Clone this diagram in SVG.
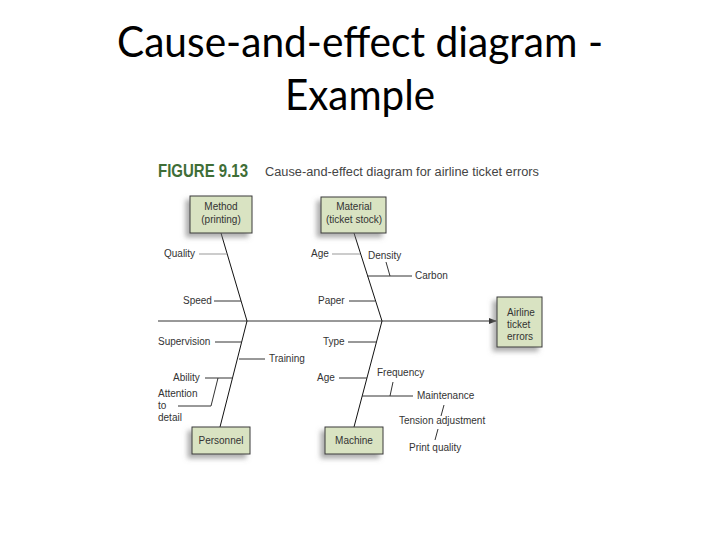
<svg xmlns="http://www.w3.org/2000/svg" width="720" height="540" viewBox="0 0 720 540">
<style>
.title{font-family:Lato,"Liberation Sans",sans-serif;font-size:42px;fill:#000}
.lbl{font-family:"Liberation Sans",Arial,sans-serif;font-size:10px;fill:#333}
.btxt{font-family:"Liberation Sans",Arial,sans-serif;font-size:10px;fill:#333}
.box{fill:#d9e3c2;stroke:#3a3a3a;stroke-width:1}
.bone{stroke:#111;stroke-width:1;fill:none}
.sub{stroke:#333;stroke-width:1;fill:none}
.light{stroke:#999;stroke-width:1;fill:none}
</style>
<defs>
<filter id="sh" x="-30%" y="-30%" width="160%" height="170%">
<feDropShadow dx="-4" dy="4" stdDeviation="2.5" flood-color="#777" flood-opacity="0.6"/>
</filter>
<marker id="arr" markerWidth="8" markerHeight="6" refX="7" refY="3" orient="auto" markerUnits="userSpaceOnUse">
<path d="M0,0 L8,3 L0,6 z" fill="#333"/>
</marker>
</defs>
<rect width="720" height="540" fill="#fff"/>
<text class="title" x="360" y="57" text-anchor="middle" textLength="486" lengthAdjust="spacingAndGlyphs">Cause-and-effect diagram -</text>
<text class="title" x="360" y="110" text-anchor="middle" textLength="150" lengthAdjust="spacingAndGlyphs">Example</text>
<text x="158" y="177" font-family="'Liberation Sans',Arial,sans-serif" font-weight="bold" font-size="18" fill="#3f6e37" textLength="90" lengthAdjust="spacingAndGlyphs">FIGURE 9.13</text>
<text x="265" y="176" font-family="'Liberation Sans',Arial,sans-serif" font-size="12.5" fill="#444" textLength="274" lengthAdjust="spacingAndGlyphs">Cause-and-effect diagram for airline ticket errors</text>

<g id="connectors">
<line class="sub" x1="158" y1="321" x2="496" y2="321" marker-end="url(#arr)"/>
<line class="bone" x1="221" y1="233" x2="247" y2="321"/>
<line class="bone" x1="247" y1="321" x2="220" y2="427"/>
<line class="bone" x1="354" y1="233" x2="382" y2="321"/>
<line class="bone" x1="382" y1="321" x2="354" y2="427"/>
<line class="light" x1="199" y1="254" x2="227" y2="254"/>
<line class="sub" x1="214" y1="301" x2="241" y2="301"/>
<line class="sub" x1="215" y1="342" x2="242" y2="342"/>
<line class="sub" x1="239" y1="359" x2="265" y2="359"/>
<line class="sub" x1="205" y1="378" x2="233" y2="378"/>
<line class="sub" x1="178" y1="406" x2="211" y2="406"/>
<line class="sub" x1="211" y1="406" x2="218" y2="378"/>
<line class="light" x1="332" y1="254" x2="360" y2="254"/>
<line class="sub" x1="367" y1="276" x2="412" y2="276"/>
<line class="sub" x1="386" y1="262" x2="390" y2="276"/>
<line class="sub" x1="349" y1="301" x2="375" y2="301"/>
<line class="sub" x1="348" y1="342" x2="377" y2="342"/>
<line class="sub" x1="339" y1="378" x2="367" y2="378"/>
<line class="sub" x1="362" y1="396" x2="413" y2="396"/>
<line class="sub" x1="393" y1="382" x2="390" y2="396"/>
<line class="sub" x1="444" y1="405" x2="441" y2="416"/>
<line class="sub" x1="438" y1="429" x2="435" y2="440"/>
</g>

<g id="method">
<rect class="box" x="190" y="196" width="62" height="37" filter="url(#sh)"/>
<text class="btxt" x="221" y="210" text-anchor="middle">Method</text>
<text class="btxt" x="221" y="223" text-anchor="middle">(printing)</text>
</g>
<g id="material">
<rect class="box" x="321" y="197" width="65" height="36" filter="url(#sh)"/>
<text class="btxt" x="354" y="210" text-anchor="middle">Material</text>
<text class="btxt" x="354" y="223" text-anchor="middle">(ticket stock)</text>
</g>
<g id="personnel">
<rect class="box" x="192" y="427" width="58" height="27" filter="url(#sh)"/>
<text class="btxt" x="221" y="444" text-anchor="middle">Personnel</text>
</g>
<g id="machine">
<rect class="box" x="325" y="427" width="58" height="27" filter="url(#sh)"/>
<text class="btxt" x="354" y="444" text-anchor="middle">Machine</text>
</g>
<g id="effect">
<rect class="box" x="497" y="297" width="45" height="50" filter="url(#sh)"/>
<text class="btxt" x="507" y="316">Airline</text>
<text class="btxt" x="507" y="328">ticket</text>
<text class="btxt" x="507" y="340">errors</text>
</g>

<g id="labels">
<text class="lbl" x="164" y="257">Quality</text>
<text class="lbl" x="183" y="304">Speed</text>
<text class="lbl" x="158" y="345">Supervision</text>
<text class="lbl" x="269" y="362">Training</text>
<text class="lbl" x="173" y="381">Ability</text>
<text class="lbl" x="158" y="397">Attention</text>
<text class="lbl" x="158" y="409">to</text>
<text class="lbl" x="158" y="421">detail</text>
<text class="lbl" x="311" y="257">Age</text>
<text class="lbl" x="368" y="259">Density</text>
<text class="lbl" x="415" y="279">Carbon</text>
<text class="lbl" x="318" y="304">Paper</text>
<text class="lbl" x="323" y="345">Type</text>
<text class="lbl" x="317" y="381">Age</text>
<text class="lbl" x="377" y="376">Frequency</text>
<text class="lbl" x="417" y="399">Maintenance</text>
<text class="lbl" x="399" y="424">Tension adjustment</text>
<text class="lbl" x="409" y="451">Print quality</text>
</g>
</svg>
